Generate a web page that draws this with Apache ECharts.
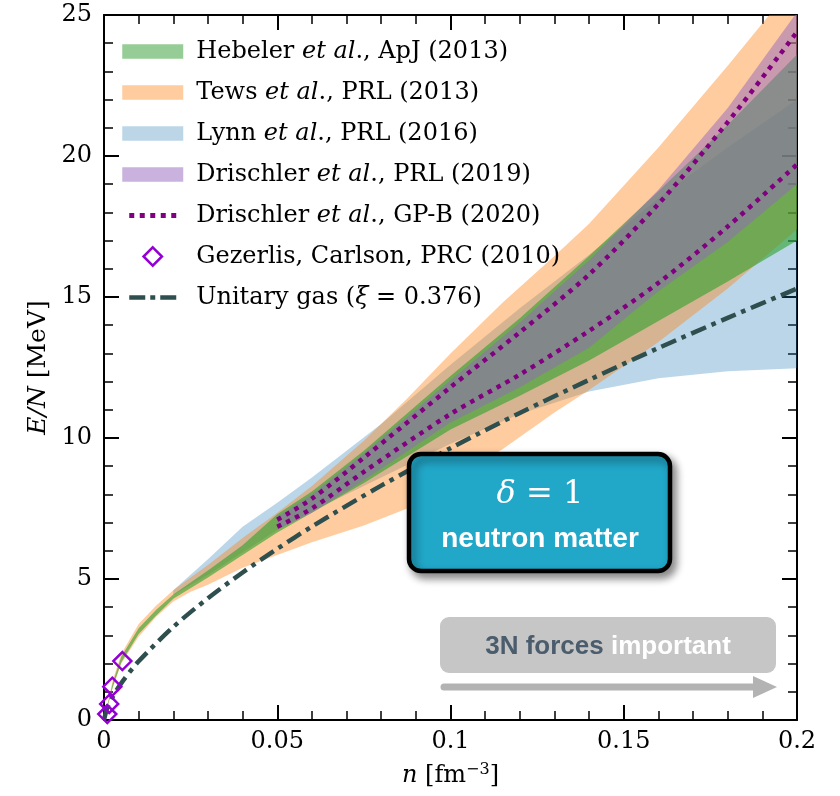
<!DOCTYPE html>
<html><head><meta charset="utf-8">
<script src="https://cdn.jsdelivr.net/npm/echarts@6/dist/echarts.min.js"></script>
<style>html,body{margin:0;padding:0;background:#fff}#c{width:840px;height:796px}</style>
</head><body><div id="c"></div>
<script>
// ---- data ----
// Lynn et al., PRL (2016)
const lynnN  = [0.02, 0.03, 0.04, 0.05, 0.06, 0.08, 0.10, 0.12, 0.14, 0.16, 0.18, 0.20];
const lynnHi = [4.6, 5.7, 6.85, 7.7, 8.6, 10.5, 12.6, 14.6, 16.5, 18.5, 20.3, 22.0];
const lynnLo = [4.43, 5.15, 5.95, 6.75, 7.4, 8.6, 9.8, 10.85, 11.65, 12.12, 12.37, 12.47];
// Tews et al., PRL (2013)
const tewsN  = [0, 0.0025, 0.005, 0.01, 0.015, 0.02, 0.025, 0.03, 0.04, 0.05, 0.06, 0.075, 0.0875, 0.1, 0.115, 0.13, 0.14, 0.16, 0.18, 0.2];
const tewsHi = [0, 1.4, 2.35, 3.4, 4.05, 4.6, 5.05, 5.5, 6.45, 7.35, 8.3, 9.9, 11.4, 13.0, 14.8, 16.45, 17.6, 20.3, 23.2, 26.2];
const tewsLo = [0, 1.15, 2.0, 2.95, 3.65, 4.2, 4.55, 4.8, 5.4, 5.85, 6.3, 6.9, 7.5, 8.5, 9.6, 10.9, 11.7, 13.4, 15.3, 17.4];
// Hebeler et al., ApJ (2013)
const hebN  = [0, 0.0025, 0.005, 0.01, 0.015, 0.02, 0.03, 0.04, 0.05, 0.06, 0.075, 0.1, 0.12, 0.14, 0.16, 0.18, 0.2];
const hebHi = [0, 1.3, 2.25, 3.25, 3.9, 4.45, 5.3, 6.2, 7.3, 8.1, 9.55, 12.2, 14.25, 16.45, 18.75, 21.1, 23.6];
const hebLo = [0, 1.15, 2.05, 3.05, 3.7, 4.3, 5.05, 5.85, 6.65, 7.35, 8.4, 10.3, 11.5, 12.75, 14.15, 15.55, 17.0];
// Drischler et al., PRL (2019)
const dr19N  = [0.05, 0.06, 0.075, 0.1, 0.12, 0.14, 0.16, 0.18, 0.2];
const dr19Hi = [7.2, 8.0, 9.45, 12.05, 14.1, 16.3, 18.8, 21.7, 25.1];
const dr19Lo = [6.75, 7.35, 8.5, 10.55, 11.8, 13.2, 15.2, 16.95, 19.0];
// Drischler et al., GP-B (2020)
const gpbN  = [0.05, 0.06, 0.075, 0.1, 0.12, 0.14, 0.16, 0.18, 0.2];
const gpbHi = [7.1, 7.85, 9.3, 11.8, 13.75, 15.8, 18.3, 21.2, 24.4];
const gpbLo = [6.85, 7.5, 8.8, 10.85, 12.25, 13.8, 15.5, 17.5, 19.7];
// Gezerlis, Carlson, PRC (2010)
const gcN = [0.00095, 0.0015, 0.0024, 0.0053];
const gcE = [0.21, 0.57, 1.18, 2.09];
// Unitary gas (xi = 0.376)
const ugN = [0, 0.001, 0.0025, 0.005, 0.01, 0.02, 0.03, 0.04, 0.05, 0.06, 0.08, 0.1, 0.12, 0.14, 0.16, 0.18, 0.2];
const ugE = [0, 0.45, 0.82, 1.31, 2.08, 3.3, 4.32, 5.23, 6.07, 6.86, 8.31, 9.64, 10.89, 12.06, 13.19, 14.26, 15.3];
// axis ticks
const xTicks = {min: 0, max: 0.2, interval: 0.05};
const yTicks = {min: 0, max: 25, interval: 5};

const SERIF = 'DejaVu Serif';
const legendText = {
  'Hebeler': 'Hebeler {it|et al}., ApJ (2013)',
  'Tews': 'Tews {it|et al}., PRL (2013)',
  'Lynn': 'Lynn {it|et al}., PRL (2016)',
  'Drischler2019': 'Drischler {it|et al}., PRL (2019)',
  'Drischler2020': 'Drischler {it|et al}., GP-B (2020)',
  'Gezerlis': 'Gezerlis, Carlson, PRC (2010)',
  'Unitary': 'Unitary gas ({it|ξ} = 0.376)'
};
// legend glyphs, drawn in a 61 x 19 icon box
const EXT = 'M0,0L0,0M61,19L61,19';
const iconPatch = 'path://' + EXT + 'M0,2.2h61v14.6h-61z';
const iconDotted = 'path://' + EXT + 'M7,7h5v5h-5zM17.5,7h5v5h-5zM28,7h5v5h-5zM38.5,7h5v5h-5zM49,7h5v5h-5z';
const iconDashDot = 'path://' + EXT + 'M7,7.2h16v4.6h-16zM28,7.2h5v4.6h-5zM38,7.2h16v4.6h-16z';
const iconDiamond = 'path://' + EXT + 'M30.5,0.3L39.7,9.5L30.5,18.7L21.3,9.5Z';

function band(name, xs, lo, hi, color, z) {
  return {
    type: 'custom', name: name, coordinateSystem: 'cartesian2d', clip: true, z: z, silent: true,
    data: xs.map((x, i) => [x, lo[i], hi[i]]),
    encode: {x: 0, y: [1, 2]},
    itemStyle: {color: color},
    renderItem: function (params, api) {
      if (params.dataIndex !== 0) return;
      const pts = [];
      for (let i = 0; i < xs.length; i++) pts.push(api.coord([xs[i], hi[i]]));
      for (let i = xs.length - 1; i >= 0; i--) pts.push(api.coord([xs[i], lo[i]]));
      return {type: 'polygon', shape: {points: pts, smooth: 0}, style: {fill: color}};
    }
  };
}
function line(name, xs, ys, style, z) {
  return {
    type: 'line', name: name, data: xs.map((x, i) => [x, ys[i]]), symbol: 'none',
    smooth: 0.3, z: z, silent: true, lineStyle: style, itemStyle: {color: style.color}
  };
}

const axisCommon = {
  axisLine: {show: true, onZero: false, lineStyle: {color: '#000', width: 2}},
  axisTick: {show: true, inside: true, length: 15, lineStyle: {color: '#000', width: 2}},
  minorTick: {show: true, splitNumber: 5, length: 9, lineStyle: {color: '#000', width: 1.5}},
  splitLine: {show: false}, minorSplitLine: {show: false}
};
const tickLabel = {color: '#000', fontFamily: SERIF, fontSize: 24};

const chart = echarts.init(document.getElementById('c'), null, {renderer: 'canvas'});
chart.setOption({
  animation: false,
  backgroundColor: '#fff',
  grid: {left: 104, right: 43, top: 15, bottom: 76, containLabel: false},
  xAxis: [
    Object.assign({type: 'value', position: 'bottom', min: xTicks.min, max: xTicks.max, interval: xTicks.interval,
      axisLabel: Object.assign({margin: 10, formatter: v => v === 0 ? '0' : String(+v.toFixed(2))}, tickLabel),
      name: '{it|n} [fm{sup|−3}]', nameLocation: 'middle', nameGap: 42,
      nameTextStyle: {color: '#000', fontFamily: SERIF, fontSize: 24,
        rich: {it: {fontStyle: 'italic', fontFamily: SERIF, fontSize: 24},
               sup: {fontFamily: SERIF, fontSize: 16, padding: [0, 0, 12, 0]}}}
    }, axisCommon),
    Object.assign({type: 'value', position: 'top', min: xTicks.min, max: xTicks.max, interval: xTicks.interval,
      axisLabel: {show: false}}, axisCommon)
  ],
  yAxis: [
    Object.assign({type: 'value', position: 'left', min: yTicks.min, max: yTicks.max, interval: yTicks.interval,
      axisLabel: Object.assign({margin: 12}, tickLabel),
      name: '{it|E/N} [MeV]', nameLocation: 'middle', nameGap: 52, nameRotate: 90,
      nameTextStyle: {color: '#000', fontFamily: SERIF, fontSize: 25,
        rich: {it: {fontStyle: 'italic', fontFamily: SERIF, fontSize: 25}}}
    }, axisCommon),
    Object.assign({type: 'value', position: 'right', min: yTicks.min, max: yTicks.max, interval: yTicks.interval,
      axisLabel: {show: false}}, axisCommon)
  ],
  legend: {
    orient: 'vertical', left: 121, top: 38, padding: 0,
    itemWidth: 61, itemHeight: 19, itemGap: 14, symbolKeepAspect: true,
    textStyle: {color: '#000', fontFamily: SERIF, fontSize: 24, lineHeight: 27, padding: [0, 0, 0, 8],
      rich: {it: {fontStyle: 'italic', fontFamily: SERIF, fontSize: 24, lineHeight: 27}}},
    formatter: name => legendText[name],
    data: [
      {name: 'Hebeler', icon: iconPatch, itemStyle: {color: '#96CD96', borderWidth: 0}},
      {name: 'Tews', icon: iconPatch, itemStyle: {color: '#FFCC9F', borderWidth: 0}},
      {name: 'Lynn', icon: iconPatch, itemStyle: {color: '#BCD6E8', borderWidth: 0}},
      {name: 'Drischler2019', icon: iconPatch, itemStyle: {color: '#C9B3DE', borderWidth: 0}},
      {name: 'Drischler2020', icon: iconDotted, itemStyle: {color: '#800080', borderWidth: 0}},
      {name: 'Gezerlis', icon: iconDiamond, itemStyle: {color: '#fff', borderColor: '#9400D3', borderWidth: 2.5}},
      {name: 'Unitary', icon: iconDashDot, itemStyle: {color: '#2F4F4F', borderWidth: 0}}
    ]
  },
  series: [
    band('Lynn', lynnN, lynnLo, lynnHi, 'rgba(31,119,180,0.3)', 1),
    band('Tews', tewsN, tewsLo, tewsHi, 'rgba(255,127,14,0.4)', 2),
    band('Hebeler', hebN, hebLo, hebHi, 'rgba(44,160,44,0.6)', 3),
    band('Drischler2019', dr19N, dr19Lo, dr19Hi, 'rgba(148,103,189,0.5)', 4),
    line('Drischler2020', gpbN, gpbHi, {color: '#800080', width: 4.5, type: [4.5, 5.5], cap: 'butt'}, 6),
    line('Drischler2020', gpbN, gpbLo, {color: '#800080', width: 4.5, type: [4.5, 5.5], cap: 'butt'}, 6),
    line('Unitary', ugN, ugE, {color: '#2F4F4F', width: 4.5, type: [16, 6, 4.5, 6], cap: 'butt'}, 7),
    {type: 'scatter', name: 'Gezerlis', data: gcN.map((x, i) => [x, gcE[i]]), symbol: 'diamond', symbolSize: 18,
      z: 8, silent: true, itemStyle: {color: 'rgba(255,255,255,0)', borderColor: '#9400D3', borderWidth: 2.5, opacity: 1}}
  ],
  graphic: [
    {type: 'rect', z: 100, shape: {x: 409, y: 454, width: 261, height: 117, r: 12},
      style: {fill: '#21A7C8', stroke: '#000', lineWidth: 4.5, shadowBlur: 8, shadowOffsetX: 4, shadowOffsetY: 5, shadowColor: 'rgba(0,0,0,0.45)'}},
    {type: 'text', z: 101, x: 540, y: 495,
      style: {text: '{it|δ} = 1', fill: '#fff', align: 'center', verticalAlign: 'middle', fontFamily: SERIF, fontSize: 32,
        rich: {it: {fontStyle: 'italic', fontFamily: SERIF, fontSize: 32, fill: '#fff'}}}},
    {type: 'text', z: 101, x: 540, y: 539,
      style: {text: 'neutron matter', fill: '#fff', align: 'center', verticalAlign: 'middle',
        fontFamily: 'Liberation Sans', fontWeight: 'bold', fontSize: 28}},
    {type: 'rect', z: 100, shape: {x: 440, y: 617, width: 336, height: 56, r: 9}, style: {fill: '#C6C6C6'}},
    {type: 'text', z: 101, x: 608, y: 647,
      style: {text: '{a|3N forces} {b|important}', align: 'center', verticalAlign: 'middle',
        fontFamily: 'Liberation Sans', fontWeight: 'bold', fontSize: 26,
        rich: {a: {fill: '#4B5C6C', fontFamily: 'Liberation Sans', fontWeight: 'bold', fontSize: 26},
               b: {fill: '#FFFFFF', fontFamily: 'Liberation Sans', fontWeight: 'bold', fontSize: 26}}}},
    {type: 'line', z: 100, shape: {x1: 444, y1: 687, x2: 756, y2: 687}, style: {stroke: '#B3B3B3', lineWidth: 7, lineCap: 'round'}},
    {type: 'polygon', z: 100, shape: {points: [[753, 676], [777, 687], [753, 698]]}, style: {fill: '#B3B3B3'}}
  ]
});
</script></body></html>
